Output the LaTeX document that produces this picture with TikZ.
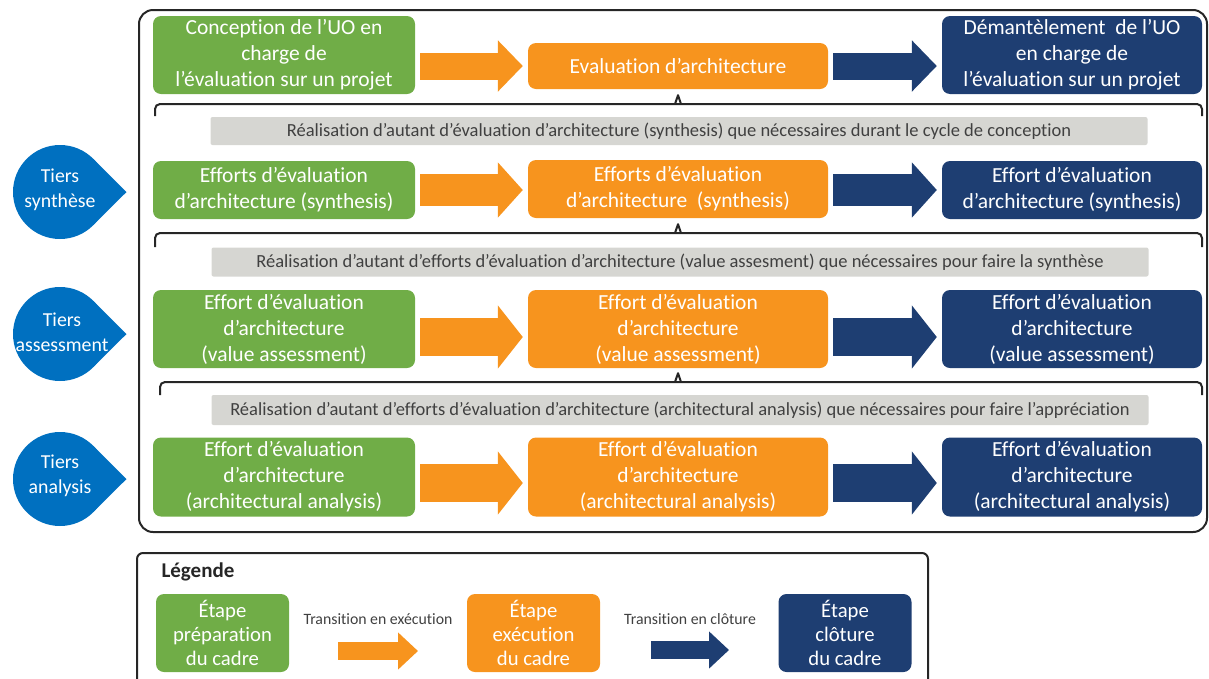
\documentclass[tikz,border=0pt]{standalone}
\usepackage{fontspec}
\setmainfont{Carlito}[Ligatures=NoCommon]
\usepackage{tikz}
\usetikzlibrary{arrows.meta,positioning}
\definecolor{evalgreen}{RGB}{112,173,71}
\definecolor{evalorange}{RGB}{247,148,30}
\definecolor{evalnavy}{RGB}{30,62,114}
\definecolor{tierblue}{RGB}{0,112,192}
\definecolor{bargray}{RGB}{214,214,210}
\definecolor{bartext}{RGB}{64,64,64}
\definecolor{framegray}{RGB}{38,38,38}

\begin{document}
\begin{tikzpicture}[x=1pt, y=-1pt,
box/.style={rounded corners=8pt, text=white, align=center, inner sep=0pt,
font=\fontsize{21.5}{26}\selectfont},
prep/.style={box, fill=evalgreen, minimum width=262pt},
exec/.style={box, fill=evalorange, minimum width=300pt},
clos/.style={box, fill=evalnavy, minimum width=260pt},
bar/.style={fill=bargray, rounded corners=2pt, text=bartext, inner sep=0pt,
minimum width=937pt, font=\fontsize{18.5}{21}\selectfont},
tier/.style={fill=tierblue},
tiertxt/.style={text=white, align=center, font=\fontsize{19.8}{25}\selectfont},
frame/.style={draw=framegray, line width=2pt, rounded corners=14pt},
brk/.style={draw=framegray, line width=2pt, rounded corners=5pt},
flow/.style={line width=32pt, shorten <=5pt, shorten >=5pt,
-{Triangle[length=25pt,width=54pt]}},
flowthin/.style={flow, line width=27pt, -{Triangle[length=25pt,width=50pt]}},
flowwide/.style={flow, line width=38pt, -{Triangle[length=25pt,width=62pt]}},
lbox/.style={box, minimum width=133pt, minimum height=78pt,
font=\fontsize{20.7}{24}\selectfont},
lflow/.style={line width=18pt, -{Triangle[length=20pt,width=36pt]}},
ltxt/.style={text=bartext, font=\fontsize{15.8}{18}\selectfont}
]
\useasboundingbox (0,0) rectangle (1209,678);
\clip (0,0) rectangle (1209,678);

% main frame
\draw[frame] (139,10) rectangle (1207,532);

% top level
\node[prep, minimum height=78pt] (g1) at (284,55)
{Conception de l’UO en\\charge de\\l’évaluation sur un projet};
\node[exec, minimum height=46pt] (o1) at (678,66) {Evaluation d’architecture};
\node[clos, minimum height=78pt] (n1) at (1072,55)
{Démantèlement~~de l’UO\\en charge de\\l’évaluation sur un projet};

\draw[flowthin, draw=evalorange] (g1.east |- o1.west) -- (o1.west);
\draw[flowthin, draw=evalnavy] (o1.east) -- (n1.west |- o1.east);

\coordinate (k1) at (o1.south |- 0,104);
\draw[brk] (155,116) |- (1202,104) -- (1202,116);
\draw[brk, rounded corners=0pt, line join=round] ([xshift=-3pt]k1) -- ([yshift=-6pt]o1.south) -- ([xshift=3pt]k1);
\node[bar, minimum height=28pt] (r1) at (679,131)
{Réalisation d’autant d’évaluation d’architecture (synthesis) que nécessaires durant le cycle de conception};

% tier synthesis
\node[prep, minimum height=58pt] (g2) at (284,190)
{Efforts d’évaluation\\d’architecture (synthesis)};
\node[exec, minimum height=58pt] (o2) at (678,189)
{Efforts d’évaluation\\d’architecture~~(synthesis)};
\node[clos, minimum height=58pt] (n2) at (1072,190)
{Effort d’évaluation\\d’architecture (synthesis)};

\draw[flow, draw=evalorange] (g2.east) -- (o2.west |- g2.east);
\draw[flow, draw=evalnavy] (o2.east |- n2.west) -- (n2.west);

\coordinate (k2) at (o2.south |- 0,233);
\draw[brk] (155,247) |- (1202,233) -- (1202,247);
\draw[brk, rounded corners=0pt, line join=round] ([xshift=-3pt]k2) -- ([yshift=-6pt]o2.south) -- ([xshift=3pt]k2);
\node[bar, minimum height=29pt] (r2) at (680,262)
{Réalisation d’autant d’efforts d’évaluation d’architecture (value assesment) que nécessaires pour faire la synthèse};

% tier assessment
\node[prep, minimum height=78pt] (g3) at (284,329)
{Effort d’évaluation\\d’architecture\\(value assessment)};
\node[exec, minimum height=78pt] (o3) at (678,329)
{Effort d’évaluation\\d’architecture\\(value assessment)};
\node[clos, minimum height=78pt] (n3) at (1072,329)
{Effort d’évaluation\\d’architecture\\(value assessment)};

\draw[flowwide, draw=evalorange] ([yshift=-8pt]g3.east) -- ([yshift=-8pt]o3.west);
\draw[flowwide, draw=evalnavy] ([yshift=-8pt]o3.east) -- ([yshift=-8pt]n3.west);

\coordinate (k3) at (o3.south |- 0,382);
\draw[brk] (160,395) |- (1202,382) -- (1202,395);
\draw[brk, rounded corners=0pt, line join=round] ([xshift=-3pt]k3) -- ([yshift=-5pt]o3.south) -- ([xshift=3pt]k3);
\node[bar, minimum height=30pt] (r3) at (680,410)
{Réalisation d’autant d’efforts d’évaluation d’architecture (architectural analysis) que nécessaires pour faire l’appréciation};

% tier analysis
\node[prep, minimum height=79pt] (g4) at (284,477)
{Effort d’évaluation\\d’architecture\\(architectural analysis)};
\node[exec, minimum height=79pt] (o4) at (678,477)
{Effort d’évaluation\\d’architecture\\(architectural analysis)};
\node[clos, minimum height=79pt] (n4) at (1072,477)
{Effort d’évaluation\\d’architecture\\(architectural analysis)};

\draw[flowwide, draw=evalorange] ([yshift=-6pt]g4.east) -- ([yshift=-6pt]o4.west);
\draw[flowwide, draw=evalnavy] ([yshift=-6pt]o4.east) -- ([yshift=-6pt]n4.west);

% tier drops
\fill[tier] (60,192) circle[radius=47pt];
\fill[tier] (93.2,158.8) -- (126.5,192) -- (93.2,225.2) -- cycle;
\node[tiertxt] (t1) at (60,190) {Tiers\\synthèse};
\fill[tier] (60,334) circle[radius=47pt];
\fill[tier] (93.2,300.8) -- (126.5,334) -- (93.2,367.2) -- cycle;
\node[tiertxt] (t2) at (62,332) {Tiers\\assessment};
\fill[tier] (60,479) circle[radius=47pt];
\fill[tier] (93.2,445.8) -- (126.5,479) -- (93.2,512.2) -- cycle;
\node[tiertxt] (t3) at (60,476) {Tiers\\analysis};

% legend
\draw[frame, rounded corners=6pt] (137,553) rectangle (928,700);
\node[anchor=west, text=framegray, font=\bfseries\fontsize{21}{24}\selectfont] (leg) at (158,572) {Légende};

\node[lbox, fill=evalgreen] (lg) at (222.5,633) {Étape\\préparation\\du cadre};
\node[lbox, fill=evalorange] (lo) at (533.5,633) {Étape\\exécution\\du cadre};
\node[lbox, fill=evalnavy] (ln) at (845,633) {Étape\\clôture\\du cadre};

\node[ltxt] (tx1) at (378,619) {Transition en exécution};
\node[ltxt] (tx2) at (690,619) {Transition en clôture};

\coordinate (la1) at (338,651);
\coordinate (la2) at (418,651);
\coordinate (lb1) at (651,650);
\coordinate (lb2) at (729,650);
\draw[lflow, draw=evalorange] (la1) -- (la2);
\draw[lflow, draw=evalnavy] (lb1) -- (lb2);

\end{tikzpicture}
\end{document}
